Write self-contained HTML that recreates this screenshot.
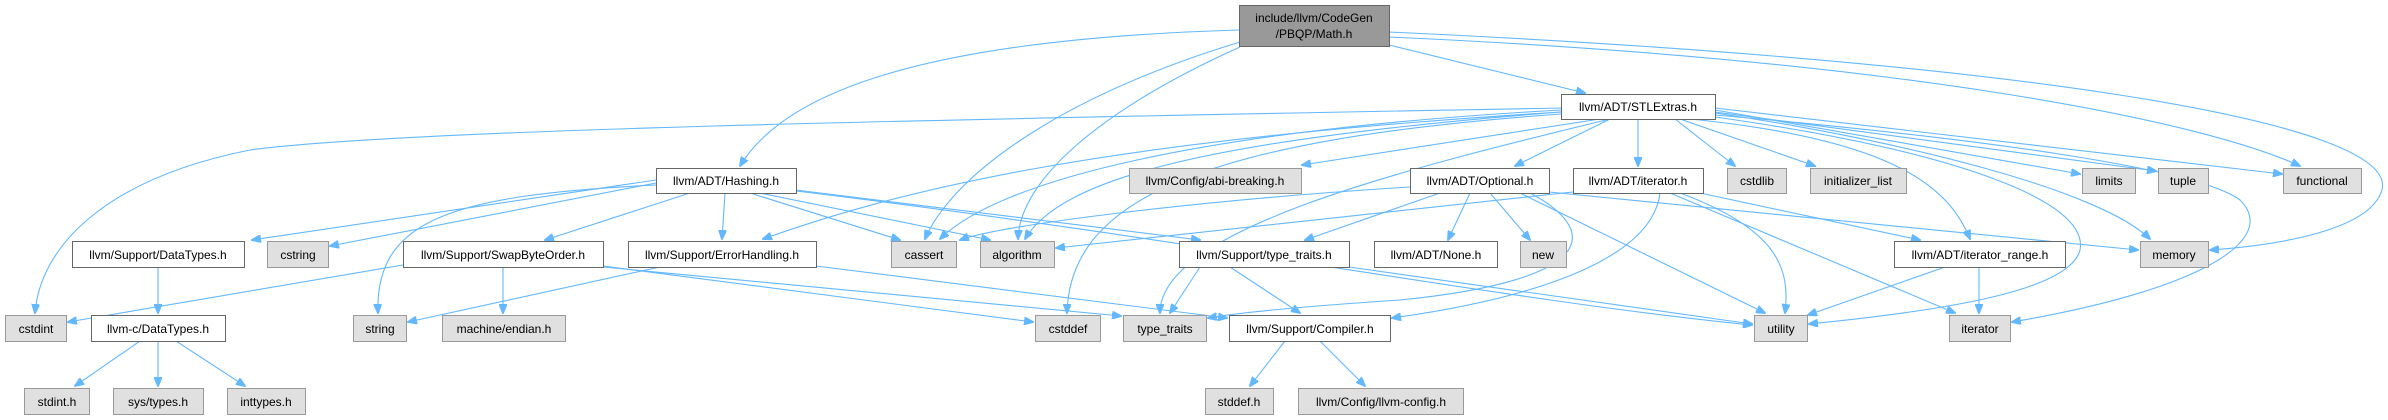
<!DOCTYPE html>
<html><head><meta charset="utf-8"><style>
html,body{margin:0;padding:0;background:#fff;}
svg{display:block;}
text{font-family:"Liberation Sans",Arial,sans-serif;font-size:12px;fill:#000;text-anchor:middle;}
.w{fill:#fff;stroke:#666;stroke-width:1;}
.g{fill:#e0e0e0;stroke:#999;stroke-width:1;}
.m{fill:#999;stroke:#666;stroke-width:1;}
path{fill:none;stroke:#63b8ff;stroke-width:1.1;marker-end:url(#a);}
</style></head><body>
<svg width="2388" height="420" viewBox="0 0 2388 420" xmlns="http://www.w3.org/2000/svg">
<defs><marker id="a" markerWidth="10" markerHeight="8" refX="9" refY="4" orient="auto" markerUnits="userSpaceOnUse"><path d="M0,0 L10,4 L0,8 z" style="fill:#63b8ff;stroke:#63b8ff;marker-end:none"/></marker></defs>
<!-- edges -->
<path d="M1239,30 C900,40 780,100 740,166"/>
<path d="M1240,42 C1050,100 950,180 925,239"/>
<path d="M1240,47 C1100,110 1020,180 1018,239"/>
<path d="M1389,45 L1585,93"/>
<path d="M1389,37 C1900,60 2200,120 2300,166"/>
<path d="M1389,32 C2000,60 2400,120 2382,190 C2370,230 2280,245 2210,250"/>
<path d="M1561,108 C900,120 400,130 250,150 C100,180 40,250 35,313"/>
<path d="M1561,112 C1100,140 900,190 763,239"/>
<path d="M1561,110 C1200,130 1000,180 940,239"/>
<path d="M1561,112 C1200,140 1060,180 1025,239"/>
<path d="M1561,114 C1200,140 1070,200 1067,313"/>
<path d="M1600,119 L1302,165"/>
<path d="M1610,119 C1400,170 1160,230 1160,313"/>
<path d="M1610,119 L1515,166"/>
<path d="M1638,119 L1638,166"/>
<path d="M1675,119 L1735,166"/>
<path d="M1680,119 L1815,166"/>
<path d="M1690,119 C1900,140 1950,190 1970,239"/>
<path d="M1715,110 L2080,174"/>
<path d="M1715,112 L2156,171"/>
<path d="M1715,108 L2282,174"/>
<path d="M1715,113 C1900,140 2100,190 2150,239"/>
<path d="M1715,115 C2000,140 2200,170 2240,200 C2280,240 2200,290 2012,322"/>
<path d="M1715,117 C1950,150 2090,200 2080,250 C2070,290 1950,310 1809,324"/>
<path d="M656,180 L252,240"/>
<path d="M656,183 L330,246"/>
<path d="M656,185 C450,195 375,220 378,313"/>
<path d="M690,193 L545,240"/>
<path d="M725,193 L722,239"/>
<path d="M750,193 L900,240"/>
<path d="M760,193 L990,240"/>
<path d="M796,190 L1200,240"/>
<path d="M796,191 C1200,240 1500,300 1752,325"/>
<path d="M403,265 L68,322"/>
<path d="M503,267 L503,313"/>
<path d="M603,266 L1033,322"/>
<path d="M603,267 L1121,316"/>
<path d="M660,267 L408,322"/>
<path d="M816,266 L1227,318"/>
<path d="M1440,193 L1305,240"/>
<path d="M1470,193 L1448,240"/>
<path d="M1490,193 L1530,240"/>
<path d="M1520,193 L1765,313"/>
<path d="M1530,193 C1600,230 1600,280 1400,300 C1250,310 1220,316 1208,318"/>
<path d="M1410,187 C1200,200 1000,225 960,240"/>
<path d="M1549,192 L2138,250"/>
<path d="M1573,192 L1056,248"/>
<path d="M1680,193 C1780,230 1790,270 1785,313"/>
<path d="M1700,193 L1920,240"/>
<path d="M1670,193 L1955,313"/>
<path d="M1660,193 C1650,280 1450,310 1392,318"/>
<path d="M1200,267 L1170,313"/>
<path d="M1230,267 L1300,313"/>
<path d="M1349,267 L1752,324"/>
<path d="M1945,267 L1808,315"/>
<path d="M1979,267 L1979,313"/>
<path d="M1285,341 L1250,386"/>
<path d="M1320,341 L1365,386"/>
<path d="M158,267 L158,313"/>
<path d="M140,341 L75,386"/>
<path d="M158,341 L158,386"/>
<path d="M176,341 L245,386"/>
<!-- nodes -->
<rect class="m" x="1239.5" y="5.5" width="150" height="41"/><text x="1314" y="22">include/llvm/CodeGen</text><text x="1314" y="38">/PBQP/Math.h</text>
<rect class="w" x="1561.5" y="94.5" width="154" height="25"/><text x="1638" y="111">llvm/ADT/STLExtras.h</text>
<rect class="w" x="656.5" y="168.5" width="140" height="25"/><text x="726" y="185">llvm/ADT/Hashing.h</text>
<rect class="g" x="1129.5" y="168.5" width="172" height="25"/><text x="1215" y="185">llvm/Config/abi-breaking.h</text>
<rect class="w" x="1410.5" y="168.5" width="139" height="25"/><text x="1480" y="185">llvm/ADT/Optional.h</text>
<rect class="w" x="1573.5" y="168.5" width="130" height="25"/><text x="1638" y="185">llvm/ADT/iterator.h</text>
<rect class="g" x="1727.5" y="168.5" width="59" height="25"/><text x="1757" y="185">cstdlib</text>
<rect class="g" x="1810.5" y="168.5" width="96" height="25"/><text x="1858" y="185">initializer_list</text>
<rect class="g" x="2082.5" y="168.5" width="53" height="25"/><text x="2109" y="185">limits</text>
<rect class="g" x="2158.5" y="168.5" width="50" height="25"/><text x="2183" y="185">tuple</text>
<rect class="g" x="2283.5" y="168.5" width="78" height="25"/><text x="2322" y="185">functional</text>
<rect class="w" x="72.5" y="241.5" width="172" height="26"/><text x="158" y="259">llvm/Support/DataTypes.h</text>
<rect class="g" x="267.5" y="241.5" width="61" height="26"/><text x="298" y="259">cstring</text>
<rect class="w" x="403.5" y="241.5" width="200" height="26"/><text x="503" y="259">llvm/Support/SwapByteOrder.h</text>
<rect class="w" x="628.5" y="241.5" width="188" height="26"/><text x="722" y="259">llvm/Support/ErrorHandling.h</text>
<rect class="g" x="891.5" y="241.5" width="65" height="26"/><text x="924" y="259">cassert</text>
<rect class="g" x="980.5" y="241.5" width="74" height="26"/><text x="1017" y="259">algorithm</text>
<rect class="w" x="1179.5" y="241.5" width="170" height="26"/><text x="1264" y="259">llvm/Support/type_traits.h</text>
<rect class="w" x="1374.5" y="241.5" width="123" height="26"/><text x="1436" y="259">llvm/ADT/None.h</text>
<rect class="g" x="1520.5" y="241.5" width="46" height="26"/><text x="1543" y="259">new</text>
<rect class="w" x="1894.5" y="241.5" width="171" height="26"/><text x="1980" y="259">llvm/ADT/iterator_range.h</text>
<rect class="g" x="2140.5" y="241.5" width="68" height="26"/><text x="2174" y="259">memory</text>
<rect class="g" x="5.5" y="315.5" width="61" height="26"/><text x="36" y="333">cstdint</text>
<rect class="w" x="91.5" y="315.5" width="134" height="26"/><text x="158" y="333">llvm-c/DataTypes.h</text>
<rect class="g" x="353.5" y="315.5" width="53" height="26"/><text x="380" y="333">string</text>
<rect class="g" x="442.5" y="315.5" width="123" height="26"/><text x="504" y="333">machine/endian.h</text>
<rect class="g" x="1035.5" y="315.5" width="65" height="26"/><text x="1068" y="333">cstddef</text>
<rect class="g" x="1123.5" y="315.5" width="83" height="26"/><text x="1165" y="333">type_traits</text>
<rect class="w" x="1229.5" y="315.5" width="161" height="26"/><text x="1310" y="333">llvm/Support/Compiler.h</text>
<rect class="g" x="1754.5" y="315.5" width="53" height="26"/><text x="1781" y="333">utility</text>
<rect class="g" x="1949.5" y="315.5" width="61" height="26"/><text x="1980" y="333">iterator</text>
<rect class="g" x="24.5" y="388.5" width="65" height="26"/><text x="57" y="406">stdint.h</text>
<rect class="g" x="113.5" y="388.5" width="90" height="26"/><text x="158" y="406">sys/types.h</text>
<rect class="g" x="227.5" y="388.5" width="78" height="26"/><text x="266" y="406">inttypes.h</text>
<rect class="g" x="1205.5" y="388.5" width="68" height="26"/><text x="1239" y="406">stddef.h</text>
<rect class="g" x="1298.5" y="388.5" width="165" height="26"/><text x="1381" y="406">llvm/Config/llvm-config.h</text>
</svg>
</body></html>
